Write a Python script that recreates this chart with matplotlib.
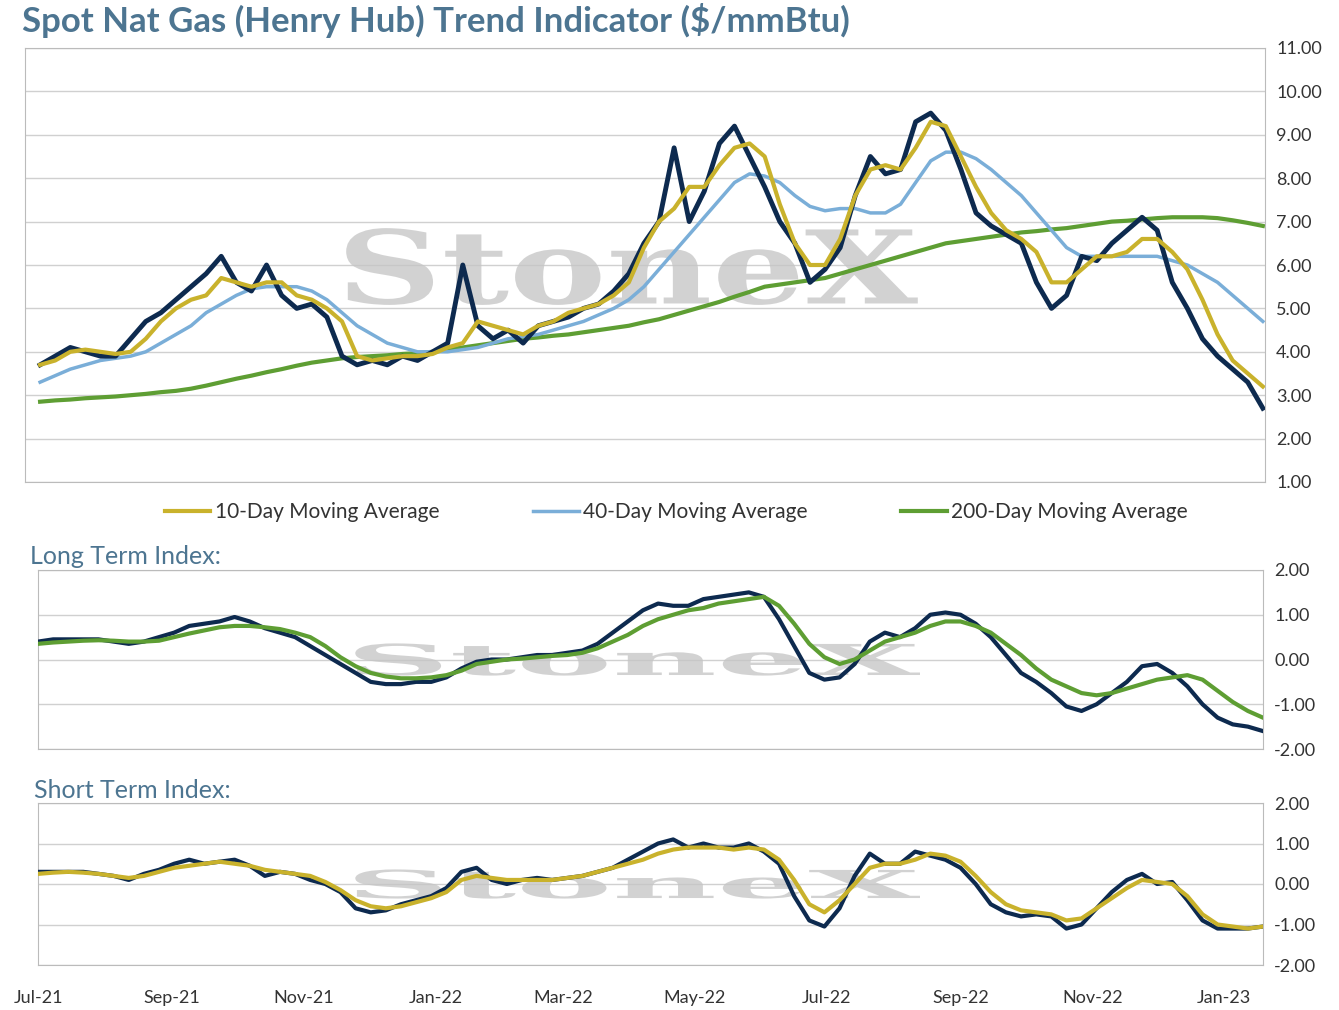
import matplotlib
matplotlib.use("Agg")
import matplotlib.pyplot as plt
import matplotlib.dates as mdates
from matplotlib.textpath import TextPath
from matplotlib.font_manager import FontProperties
from matplotlib.patches import PathPatch
from matplotlib.transforms import Affine2D
import pandas as pd
import numpy as np

spot = [3.7,3.9,4.1,4.0,3.9, 3.9,4.3,4.7,4.9, 5.2,5.5,5.8,6.2,5.6, 5.4,6.0,5.3,5.0,
        5.1,4.8,3.9,3.7, 3.8,3.7,3.9,3.8,4.0, 4.2,6.0,4.6,4.3, 4.5,4.2,4.6,4.7,
        4.8,5.0,5.1,5.4,5.8, 6.5,7.0,8.7,7.0, 7.7,8.8,9.2,8.5, 7.8,7.0,6.5,5.6,5.9,
        6.4,7.6,8.5,8.1, 8.2,9.3,9.5,9.1, 8.2,7.2,6.9,6.7,6.5, 5.6,5.0,5.3,6.2,
        6.1,6.5,6.8,7.1, 6.8,5.6,5.0,4.3,3.9, 3.6,3.3,2.7]
ma10 = [3.7,3.8,4.0,4.05,4.0, 3.95,4.0,4.3,4.7, 5.0,5.2,5.3,5.7,5.6, 5.5,5.6,5.6,5.3,
        5.2,5.0,4.7,3.9, 3.8,3.85,3.9,3.9,3.95, 4.1,4.2,4.7,4.6, 4.5,4.4,4.6,4.7,
        4.9,5.0,5.1,5.3,5.6, 6.4,7.0,7.3,7.8, 7.8,8.3,8.7,8.8, 8.5,7.4,6.5,6.0,6.0,
        6.6,7.6,8.2,8.3, 8.2,8.7,9.3,9.2, 8.5,7.8,7.2,6.8,6.6, 6.3,5.6,5.6,5.9,
        6.2,6.2,6.3,6.6, 6.6,6.3,5.9,5.2,4.4, 3.8,3.5,3.2]
ma40 = [3.3,3.45,3.6,3.7,3.8, 3.85,3.9,4.0,4.2, 4.4,4.6,4.9,5.1,5.3, 5.45,5.5,5.5,5.5,
        5.4,5.2,4.9,4.6, 4.4,4.2,4.1,4.0,4.0, 4.0,4.05,4.1,4.2, 4.3,4.35,4.4,4.5,
        4.6,4.7,4.85,5.0,5.2, 5.5,5.9,6.3,6.7, 7.1,7.5,7.9,8.1, 8.05,7.9,7.6,7.35,7.25,
        7.3,7.3,7.2,7.2, 7.4,7.9,8.4,8.6, 8.6,8.45,8.2,7.9,7.6, 7.2,6.8,6.4,6.2,
        6.2,6.2,6.2,6.2, 6.2,6.1,6.0,5.8,5.6, 5.3,5.0,4.7]
ma200 = [2.85,2.88,2.9,2.93,2.95, 2.97,3.0,3.03,3.07, 3.1,3.15,3.22,3.3,3.38, 3.45,3.53,3.6,3.68,
         3.75,3.8,3.85,3.88, 3.9,3.92,3.95,3.97,4.0, 4.05,4.1,4.15,4.2, 4.25,4.3,4.33,4.37,
         4.4,4.45,4.5,4.55,4.6, 4.68,4.75,4.85,4.95, 5.05,5.15,5.27,5.38, 5.5,5.55,5.6,5.65,5.7,
         5.8,5.9,6.0,6.1, 6.2,6.3,6.4,6.5, 6.55,6.6,6.65,6.7,6.75, 6.78,6.82,6.85,6.9,
         6.95,7.0,7.02,7.05, 7.08,7.1,7.1,7.1,7.08, 7.03,6.97,6.9]
long_idx = [0.4,0.45,0.45,0.45,0.45, 0.4,0.35,0.4,0.5, 0.6,0.75,0.8,0.85,0.95, 0.85,0.7,0.6,0.5,
            0.3,0.1,-0.1,-0.3, -0.5,-0.55,-0.55,-0.5,-0.5, -0.4,-0.2,-0.05,0.0, 0.0,0.05,0.1,0.1,
            0.15,0.2,0.35,0.6,0.85, 1.1,1.25,1.2,1.2, 1.35,1.4,1.45,1.5, 1.4,0.9,0.3,-0.3,-0.45,
            -0.4,-0.1,0.4,0.6, 0.5,0.7,1.0,1.05, 1.0,0.8,0.5,0.1,-0.3, -0.5,-0.75,-1.05,-1.15,
            -1.0,-0.75,-0.5,-0.15, -0.1,-0.3,-0.6,-1.0,-1.3, -1.45,-1.5,-1.6]
long_sig = [0.35,0.38,0.4,0.42,0.43, 0.42,0.4,0.4,0.42, 0.5,0.58,0.65,0.72,0.75, 0.75,0.72,0.68,0.6,
            0.5,0.3,0.05,-0.15, -0.3,-0.38,-0.42,-0.42,-0.4, -0.35,-0.25,-0.1,-0.05, 0.0,0.02,0.05,0.08,
            0.1,0.15,0.25,0.4,0.55, 0.75,0.9,1.0,1.1, 1.15,1.25,1.3,1.35, 1.4,1.2,0.8,0.35,0.05,
            -0.1,0.0,0.2,0.4, 0.5,0.6,0.75,0.85, 0.85,0.75,0.6,0.35,0.1, -0.2,-0.45,-0.6,-0.75,
            -0.8,-0.75,-0.65,-0.55, -0.45,-0.4,-0.35,-0.45,-0.7, -0.95,-1.15,-1.3]
short_idx = [0.3,0.3,0.3,0.3,0.25, 0.2,0.1,0.25,0.35, 0.5,0.6,0.5,0.55,0.6, 0.45,0.2,0.3,0.25,
             0.1,0.0,-0.2,-0.6, -0.7,-0.65,-0.5,-0.4,-0.3, -0.1,0.3,0.4,0.1, 0.0,0.1,0.15,0.1,
             0.15,0.2,0.3,0.4,0.6, 0.8,1.0,1.1,0.9, 1.0,0.9,0.9,1.0, 0.8,0.5,-0.3,-0.9,-1.05,
             -0.6,0.2,0.75,0.5, 0.5,0.8,0.7,0.6, 0.4,0.0,-0.5,-0.7,-0.8, -0.75,-0.8,-1.1,-1.0,
             -0.6,-0.2,0.1,0.25, 0.0,0.05,-0.4,-0.9,-1.1, -1.1,-1.1,-1.05]
short_sig = [0.25,0.28,0.3,0.28,0.25, 0.2,0.15,0.2,0.3, 0.4,0.45,0.5,0.55,0.5, 0.45,0.35,0.3,0.25,
             0.2,0.05,-0.15,-0.4, -0.55,-0.6,-0.55,-0.45,-0.35, -0.2,0.1,0.2,0.15, 0.1,0.1,0.1,0.1,
             0.15,0.2,0.3,0.4,0.5, 0.6,0.75,0.85,0.9, 0.9,0.9,0.85,0.9, 0.85,0.6,0.1,-0.5,-0.7,
             -0.4,0.0,0.4,0.5, 0.5,0.6,0.75,0.7, 0.55,0.2,-0.2,-0.5,-0.65, -0.7,-0.75,-0.9,-0.85,
             -0.6,-0.35,-0.1,0.1, 0.05,0.0,-0.3,-0.75,-1.0, -1.05,-1.1,-1.05]

dates = pd.date_range("2021-07-01", periods=len(spot), freq="7D")
tick_dates = pd.to_datetime(["2021-07-01","2021-09-01","2021-11-01","2022-01-01","2022-03-01",
                             "2022-05-01","2022-07-01","2022-09-01","2022-11-01","2023-01-01"])

NAVY = "#0d2a4f"; GOLD = "#c9b22c"; BLUE = "#7aaed8"; GREEN = "#5e9e33"
TITLE = "#4d7591"; GRID = "#d0d0d0"; TXT = "#333333"
W, H = 1339, 1010
fig = plt.figure(figsize=(W/100, H/100), dpi=100)
plt.rcParams['font.family'] = ['Lato', 'DejaVu Sans']

def ax_at(l, t, r, b):
    return fig.add_axes([l/W, 1-b/H, (r-l)/W, (b-t)/H])

def style(ax, ymin, ymax, step):
    ax.set_ylim(ymin, ymax)
    ax.set_yticks(np.arange(ymin, ymax+1e-9, step))
    ax.yaxis.tick_right()
    ax.yaxis.set_major_formatter(matplotlib.ticker.FormatStrFormatter('%.2f'))
    ax.tick_params(axis='y', length=0, labelsize=13, colors=TXT, pad=8)
    ax.grid(axis='y', color=GRID, lw=1)
    ax.set_axisbelow(True)
    for s in ax.spines.values():
        s.set_color("#bbbbbb")

def watermark(ax, x0=0.259, x1=0.72, y0=0.41, y1=0.59):
    tp = TextPath((0, 0), "StoneX", size=100, prop=FontProperties(family='DejaVu Serif', weight='bold'))
    ext = tp.get_extents()
    tr = (Affine2D().translate(-ext.x0, -ext.y0)
          .scale((x1-x0)/ext.width, (y1-y0)/ext.height).translate(x0, y0) + ax.transAxes)
    ax.add_patch(PathPatch(tp, transform=tr, facecolor='#c4c4c4', edgecolor='none', alpha=0.75, zorder=1))

start = pd.Timestamp("2021-07-01")
top = ax_at(25, 48, 1265, 482)
top.set_xlim(pd.Timestamp("2021-06-24"), pd.Timestamp("2023-01-20"))
style(top, 1, 11, 1)
watermark(top, y0=0.408, y1=0.585)
top.plot(dates, ma200, color=GREEN, lw=3, label="200-Day Moving Average", zorder=2)
top.plot(dates, ma40, color=BLUE, lw=2.5, label="40-Day Moving Average", zorder=3)
top.plot(dates, spot, color=NAVY, lw=3.5, zorder=4)
top.plot(dates, ma10, color=GOLD, lw=3, label="10-Day Moving Average", zorder=5)
top.set_xticks([])
h, l = top.get_legend_handles_labels()
order = [2, 1, 0]
fig.legend([h[i] for i in order], [l[i] for i in order], loc='center', bbox_to_anchor=(0.505, 1-512/H),
           ncol=3, frameon=False, fontsize=15, handlelength=2.2, columnspacing=4.5, handletextpad=0.2,
           labelcolor=TXT)
fig.text(22/W, 1-21/H, "Spot Nat Gas (Henry Hub) Trend Indicator ($/mmBtu)", fontsize=25,
         fontweight='bold', color=TITLE, va='center')

lng = ax_at(38, 570, 1263, 749)
style(lng, -2, 2, 1)
lng.set_xlim(start, pd.Timestamp("2023-01-19"))
watermark(lng)
lng.plot(dates, long_idx, color=NAVY, lw=3, zorder=3)
lng.plot(dates, long_sig, color=GREEN, lw=3, zorder=4)
lng.set_xticks([])
fig.text(30/W, 1-556/H, "Long Term Index:", fontsize=18, color=TITLE, va='center')

sht = ax_at(38, 803, 1263, 965)
style(sht, -2, 2, 1)
sht.set_xlim(start, pd.Timestamp("2023-01-19"))
watermark(sht)
sht.plot(dates, short_idx, color=NAVY, lw=3, zorder=3)
sht.plot(dates, short_sig, color=GOLD, lw=3, zorder=4)
sht.set_xticks(tick_dates)
sht.xaxis.set_major_formatter(mdates.DateFormatter('%b-%y'))
sht.tick_params(axis='x', length=0, labelsize=13, colors=TXT, pad=18)
fig.text(34/W, 1-791/H, "Short Term Index:", fontsize=18, color=TITLE, va='center')

fig.savefig("out.png", dpi=100)
